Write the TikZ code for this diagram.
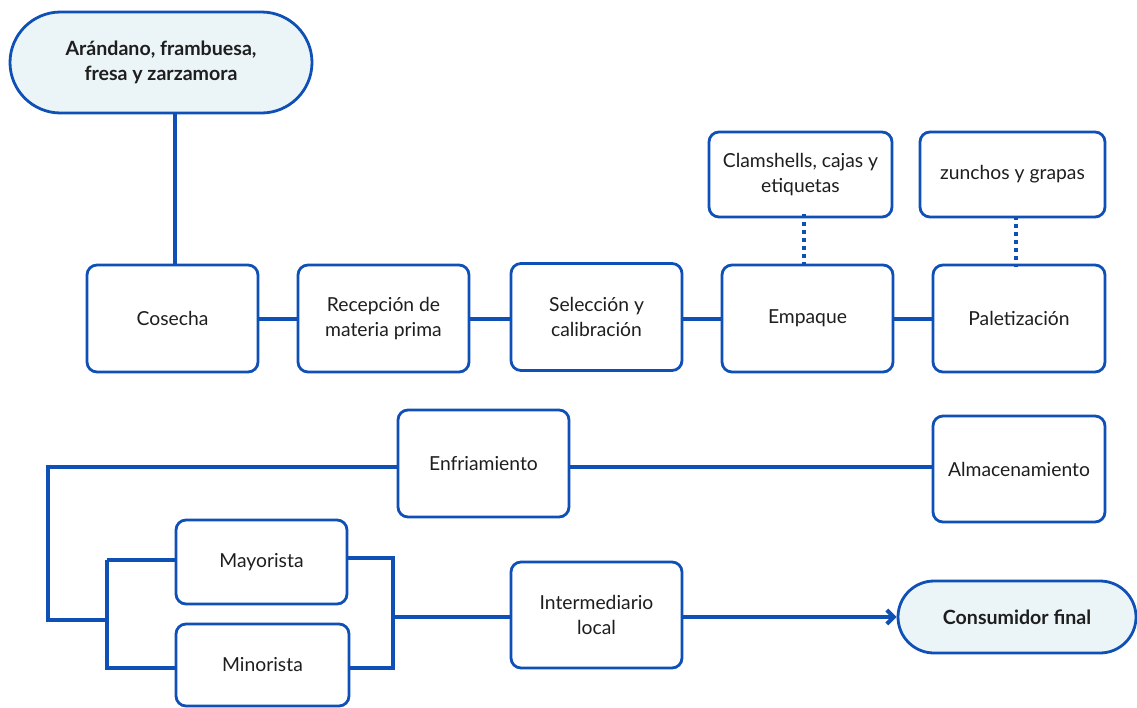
\documentclass[tikz,border=0pt]{standalone}
\usepackage{fontspec}
\setmainfont{Lato}
\usetikzlibrary{shapes.misc,arrows.meta}
\definecolor{lineblue}{RGB}{14,80,182}
\definecolor{paleblue}{RGB}{235,244,247}
\definecolor{txt}{RGB}{30,30,30}
\begin{document}
\begin{tikzpicture}[x=1pt,y=-1pt,
  box/.style={draw=lineblue,line width=2.8pt,rounded corners=10pt,fill=white,
    align=center,text=txt,font=\fontsize{19.3}{25}\selectfont,inner sep=0pt},
  term/.style={draw=lineblue,line width=2.8pt,rounded rectangle,fill=paleblue,
    align=center,text=txt,font=\bfseries\fontsize{19.6}{25}\selectfont,inner sep=0pt},
  conn/.style={draw=lineblue,line width=4pt},
  dots/.style={draw=lineblue,line width=3.5pt,dash pattern=on 4pt off 4pt}]
\useasboundingbox (0,0) rectangle (1137,707);

\node[term,minimum width=302pt,minimum height=101pt] (fruit) at (161,62.5) {Arándano, frambuesa,\\fresa y zarzamora};

\node[box,minimum width=171pt,minimum height=107pt] (cosecha) at (172.5,318.5) {Cosecha};
\node[box,minimum width=171pt,minimum height=107pt] (recep) at (383.5,318.5) {Recepción de\\materia prima};
\node[box,minimum width=171pt,minimum height=107pt] (selec) at (596.5,317) {Selección y\\calibración};
\node[box,minimum width=171pt,minimum height=107pt] (empaque) at (807.5,318.5) {Empaque};
\node[box,minimum width=172pt,minimum height=107pt] (palet) at (1019,318.5) {Paletización};

\node[box,minimum width=183pt,minimum height=85pt] (clam) at (800.5,174.5) {Clamshells, cajas y\\etiquetas};
\node[box,minimum width=185pt,minimum height=85pt] (zunchos) at (1012.5,174.5) {zunchos y grapas};

\node[box,minimum width=171pt,minimum height=107pt] (enfri) at (483.5,463.5) {Enfriamiento};
\node[box,minimum width=172pt,minimum height=106pt] (almac) at (1019,469) {Almacenamiento};

\node[box,minimum width=171pt,minimum height=84pt] (mayor) at (261.5,562) {Mayorista};
\node[box,minimum width=173pt,minimum height=82pt] (minor) at (262.5,665) {Minorista};

\node[box,minimum width=171pt,minimum height=106pt] (inter) at (596.5,615) {Intermediario\\local};
\node[term,minimum width=238pt,minimum height=72pt] (consum) at (1017,617) {Consumidor final};

\coordinate (vx) at (175,0);
\coordinate (tl) at (48,467);
\coordinate (bl) at (48,620);
\coordinate (lb) at (107,620);
\coordinate (lbt) at (107,560);
\coordinate (lbb) at (107,668);
\coordinate (rb) at (393,617);
\coordinate (rbt) at (393,558);
\coordinate (rbb) at (393,668);
\coordinate (d1) at (804,0);
\coordinate (d2) at (1016,0);

\draw[conn] (fruit.south -| vx) -- (cosecha.north -| vx);
\draw[conn] (cosecha.east) -- (recep.west);
\draw[conn] (recep.east) -- (recep.east -| selec.west);
\draw[conn] (selec.east |- empaque.west) -- (empaque.west);
\draw[conn] (empaque.east) -- (palet.west);

\draw[dots] ([yshift=4pt]clam.south -| d1) -- (empaque.north -| d1);
\draw[dots] ([yshift=2pt]zunchos.south -| d2) -- ([yshift=-3pt]palet.north -| d2);

\draw[conn] (almac.west |- 0,467) -- (enfri.east |- 0,467);
\draw[conn] (enfri.west |- tl) -- (tl) -- (bl) -- (lb);
\draw[conn] (lbt) -- (mayor.west |- lbt);
\draw[conn] (lbt) -- (lbb) -- (minor.west |- lbb);
\draw[conn] (mayor.east |- rbt) -- (rbt) -- (rbb) -- (minor.east |- rbb);
\draw[conn] (rb) -- (inter.west |- rb);
\draw[conn,-{Straight Barb[length=7pt,width=14pt,line width=4pt]}] (inter.east |- consum.west) -- (consum.west);
\end{tikzpicture}
\end{document}
